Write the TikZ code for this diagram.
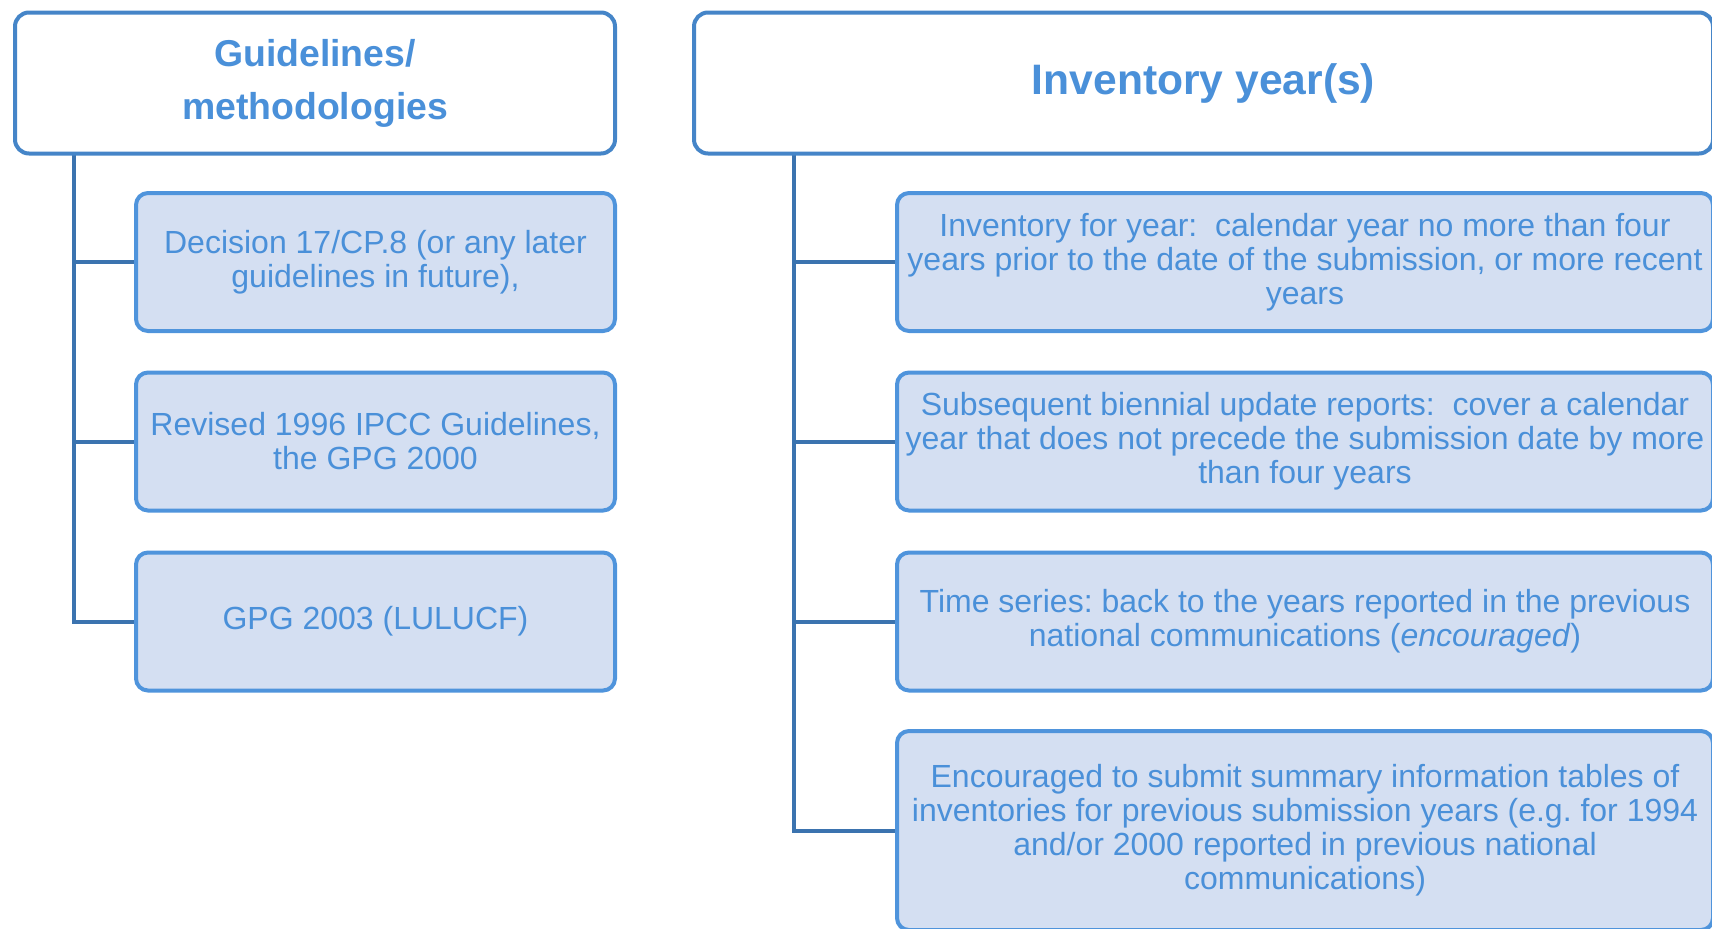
\documentclass[tikz,border=0pt]{standalone}
\usepackage{fontspec}
\setmainfont{Liberation Sans}
\usetikzlibrary{positioning,backgrounds}

\definecolor{hdrline}{RGB}{69,133,200}
\definecolor{boxline}{RGB}{79,148,220}
\definecolor{boxfill}{RGB}{212,223,242}
\definecolor{boxtext}{RGB}{74,144,217}
\definecolor{treeline}{RGB}{59,115,175}

\begin{document}
\begin{tikzpicture}[x=0.5pt, y=-0.5pt,
  head/.style={draw=hdrline, line width=2pt, rounded corners=7pt, fill=white,
    text=boxtext, align=center, minimum height=70.5pt, inner sep=2pt},
  item/.style={draw=boxline, line width=2pt, rounded corners=6pt, fill=boxfill,
    text=boxtext, align=center, minimum height=69pt, inner sep=1pt,
    font=\fontsize{16}{17}\selectfont\frenchspacing},
  conn/.style={draw=treeline, line width=2pt}]
  \useasboundingbox (0,0) rectangle (1712,928);

  % left column
  \node[head, minimum width=300pt, font=\fontsize{18.7}{26.5}\selectfont\bfseries] (guide) at (315,83) {Guidelines/\\methodologies};
  \node[item, minimum width=239.5pt] (g1) at (375.5,262)   {Decision 17/CP.8 (or any later\\guidelines in future),};
  \node[item, minimum width=239.5pt] (g2) at (375.5,441.5) {Revised 1996 IPCC Guidelines,\\the GPG 2000};
  \node[item, minimum width=239.5pt] (g3) at (375.5,621.5) {GPG 2003 (LULUCF)};
  \coordinate (lt) at (74,152);

  % right column
  \node[head, minimum width=509.5pt, font=\fontsize{21.3}{25}\selectfont\bfseries] (inv) at (1203.5,83) {Inventory year(s)};
  \node[item, minimum width=408pt] (y1) at (1305,262)   {Inventory for year:~ calendar year no more than four\\years prior to the date of the submission, or more recent\\years};
  \node[item, minimum width=408pt] (y2) at (1305,441.5) {Subsequent biennial update reports:~ cover a calendar\\year that does not precede the submission date by more\\than four years};
  \node[item, minimum width=408pt] (y3) at (1305,621.5) {Time series: back to the years reported in the previous\\national communications (\textit{encouraged})};
  \node[item, minimum width=408pt, minimum height=99.5pt] (y4) at (1305,830.5) {Encouraged to submit summary information tables of\\inventories for previous submission years (e.g. for 1994\\and/or 2000 reported in previous national\\communications)};
  \coordinate (rt) at (794,152);

  \begin{scope}[on background layer]
    \foreach \n in {g1,g2,g3}
      \draw[conn] (lt) |- (\n.west);
    \foreach \n in {y1,y2,y3,y4}
      \draw[conn] (rt) |- (\n.west);
  \end{scope}
\end{tikzpicture}
\end{document}
